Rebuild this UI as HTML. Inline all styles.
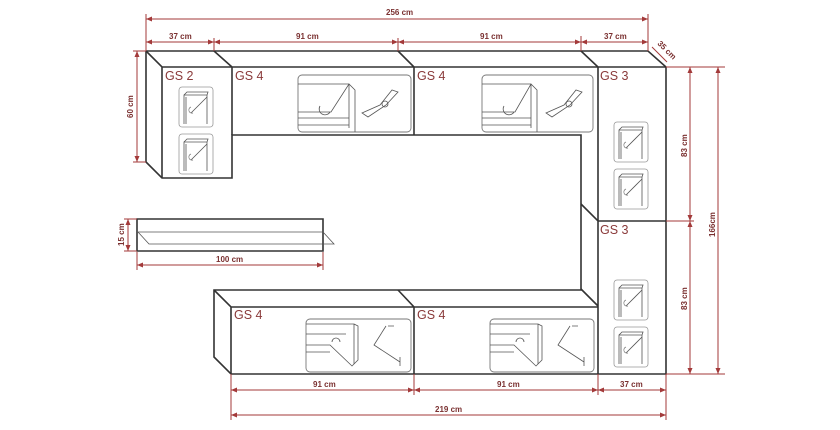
<!DOCTYPE html>
<html><head><meta charset="utf-8"><style>
html,body{margin:0;padding:0;background:#fff;width:840px;height:430px;overflow:hidden}
svg{display:block}
.l{stroke:#333;stroke-width:1.6;fill:none}
.t{stroke:#555;stroke-width:0.8;fill:none}
.d{stroke:#a33a3a;stroke-width:1;fill:none}
.a{fill:#a33a3a}
.dt{font-family:"Liberation Sans",sans-serif;font-size:8px;font-weight:bold;fill:#7a3030}
.gs{font-family:"Liberation Sans",sans-serif;font-size:12.5px;fill:#8a3a3a}
</style></head><body>
<svg width="840" height="430" viewBox="0 0 840 430" xmlns="http://www.w3.org/2000/svg">
<defs>
<g id="door">
<rect x="0" y="0" width="34" height="40" rx="3" fill="#fff" stroke="#999" stroke-width="0.8"/>
<path d="M5 37 V8 H28 V37 M7 37 V10 M5 8 L8 5 H29 L28 8 M28 10 L12 26" stroke="#555" stroke-width="0.8" fill="none"/>
<path d="M12 20 a3 3 0 1 0 2 6" stroke="#777" stroke-width="0.7" fill="none"/>
</g>
</defs>

<path class="l" d="M146 51 H648 L666 67 V374 H231 L214 357 V290 H581 V135 H232 V178 H162 L146 162 V51"/>
<path class="l" d="M146 51 L162 67 H666 M162 67 V178 M214 51 L232 67 V135 M398 51 L414 67 V135 M581 51 L598 67 V374 M581 204 L598 221 H666 M581 289 L598 306 M214 290 L231 307 H598 M231 307 V374 M398 290 L414 307 V374"/>

<path class="l" d="M137 219 H323 V251 H137 Z"/>
<path class="t" d="M138 232 H323 L334 244 H149 L138 232"/>

<g>
<rect x="298" y="75" width="113" height="57" rx="4" fill="#fff" stroke="#777" stroke-width="0.9"/>
<path class="t" d="M298 84 H349 V128 M298 112 H331 L349 84 L355 90 V132 M298 118 H349 M298 125 H349"/>
<path class="t" d="M320 106 a5 5 0 0 0 10 6"/>
<path class="t" d="M362 113 L380 105 L392 90 L398 92 L386 105 L368 117 Z"/><circle cx="385" cy="104" r="3" class="t"/>
</g>
<g>
<rect x="482" y="75" width="111" height="57" rx="4" fill="#fff" stroke="#777" stroke-width="0.9"/>
<path class="t" d="M482 84 H531 V128 M482 112 H515 L531 84 L537 90 V132 M482 118 H531 M482 125 H531"/>
<path class="t" d="M504 106 a5 5 0 0 0 10 6"/>
<path class="t" d="M546 113 L564 105 L576 90 L582 92 L570 105 L552 117 Z"/><circle cx="569" cy="104" r="3" class="t"/>
</g>
<g>
<rect x="306" y="319" width="105" height="53" rx="4" fill="#fff" stroke="#777" stroke-width="0.9"/>
<path class="t" d="M306 324 H354 V364 M306 334 H346 M306 345 H330 L352 366 L358 360 V326 L354 324 M306 352 H330"/>
<path class="t" d="M332 342 a4 4 0 0 1 8 0"/>
<path class="t" d="M386 326 L374 345 L400 362 M388 326 H394 M400 357 V366"/>
</g>
<g>
<rect x="490" y="319" width="104" height="53" rx="4" fill="#fff" stroke="#777" stroke-width="0.9"/>
<path class="t" d="M490 324 H538 V364 M490 334 H530 M490 345 H514 L536 366 L542 360 V326 L538 324 M490 352 H514"/>
<path class="t" d="M516 342 a4 4 0 0 1 8 0"/>
<path class="t" d="M570 326 L558 345 L584 362 M572 326 H578 M584 357 V366"/>
</g>
<use href="#door" x="179" y="87"/>
<use href="#door" x="179" y="134"/>
<use href="#door" x="614" y="122"/>
<use href="#door" x="614" y="169"/>
<use href="#door" x="614" y="280"/>
<use href="#door" x="614" y="327"/>

<text class="gs" x="165" y="80">GS 2</text>
<text class="gs" x="235" y="80">GS 4</text>
<text class="gs" x="417" y="80">GS 4</text>
<text class="gs" x="600" y="80">GS 3</text>
<text class="gs" x="600" y="234">GS 3</text>
<text class="gs" x="234" y="319">GS 4</text>
<text class="gs" x="417" y="319">GS 4</text>

<g class="d">
<path d="M146 14 V51 M648 14 V51 M146 19 H648 M146 42 H214 M214 38 V51 M214 42 H398 M398 38 V51 M398 42 H581 M581 36 V51 M581 42 H648"/>
<path d="M652 47 L667 62"/>
<path d="M133 51 H146 M133 162 H146 M137 51 V162"/>
<path d="M666 67 H725 M666 221 H694 M666 374 H725 M690 67 V221 M690 221 V374 M718 67 V374"/>
<path d="M124 219 H137 M124 251 H137 M128 219 V251"/>
<path d="M137 252 V270 M323 252 V270 M137 265 H323"/>
<path d="M231 374 V420 M414 374 V395 M598 374 V395 M666 374 V420 M231 390 H414 M414 390 H598 M598 390 H666 M231 415 H666"/>
</g>
<g class="a">
<path d="M146 19 l6 -2.5 v5z M648 19 l-6 -2.5 v5z"/>
<path d="M146 42 l6 -2.5 v5z M214 42 l-6 -2.5 v5z M214 42 l6 -2.5 v5z M398 42 l-6 -2.5 v5z M398 42 l6 -2.5 v5z M581 42 l-6 -2.5 v5z M581 42 l6 -2.5 v5z M648 42 l-6 -2.5 v5z"/>
<path d="M137 51 l-2.5 6 h5z M137 162 l-2.5 -6 h5z"/>
<path d="M690 67 l-2.5 6 h5z M690 221 l-2.5 -6 h5z M690 221 l-2.5 6 h5z M690 374 l-2.5 -6 h5z M718 67 l-2.5 6 h5z M718 374 l-2.5 -6 h5z"/>
<path d="M128 219 l-2.5 6 h5z M128 251 l-2.5 -6 h5z"/>
<path d="M137 265 l6 -2.5 v5z M323 265 l-6 -2.5 v5z"/>
<path d="M231 390 l6 -2.5 v5z M414 390 l-6 -2.5 v5z M414 390 l6 -2.5 v5z M598 390 l-6 -2.5 v5z M598 390 l6 -2.5 v5z M666 390 l-6 -2.5 v5z"/>
<path d="M231 415 l6 -2.5 v5z M666 415 l-6 -2.5 v5z"/>
</g>
<g class="dt">
<text x="386" y="15">256 cm</text>
<text x="169" y="39">37 cm</text>
<text x="296" y="39">91 cm</text>
<text x="480" y="39">91 cm</text>
<text x="604" y="39">37 cm</text>
<text transform="translate(657,44) rotate(45)">35 cm</text>
<text transform="translate(133,118) rotate(-90)">60 cm</text>
<text transform="translate(687,157) rotate(-90)">83 cm</text>
<text transform="translate(687,310) rotate(-90)">83 cm</text>
<text transform="translate(715,237) rotate(-90)">166cm</text>
<text transform="translate(124,246) rotate(-90)">15 cm</text>
<text x="216" y="262">100 cm</text>
<text x="313" y="387">91 cm</text>
<text x="497" y="387">91 cm</text>
<text x="620" y="387">37 cm</text>
<text x="435" y="412">219 cm</text>
</g>
</svg>
</body></html>
